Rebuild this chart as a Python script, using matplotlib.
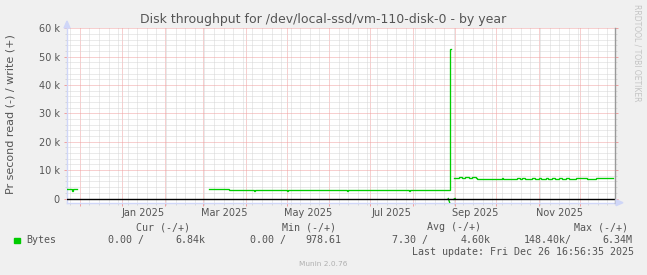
import numpy as np
import pandas as pd
import matplotlib
matplotlib.use("Agg")
import matplotlib.pyplot as plt
import matplotlib.dates as mdates
import matplotlib.transforms as mtransforms
from matplotlib.patches import Rectangle, Polygon
from matplotlib.ticker import FixedLocator, MultipleLocator

W, H = 647, 275
nan = np.nan

# ---------------- data ----------------
title = "Disk throughput for /dev/local-ssd/vm-110-disk-0 - by year"
ylabel = "Pr second read (-) / write (+)"
range_start = "2024-11-21 16:56:35"
range_end = "2025-12-26 16:56:35"

write_dates = ["2024-11-21", "2024-11-25", "2024-11-26", "2024-11-29",
               "2025-03-05", "2025-03-20", "2025-04-04", "2025-04-07", "2025-04-08",
               "2025-05-01", "2025-05-02", "2025-05-19", "2025-05-24", "2025-06-11",
               "2025-06-14", "2025-06-15", "2025-07-29", "2025-07-30", "2025-08-28",
               "2025-08-29",
               "2025-08-31", "2025-09-04", "2025-09-06", "2025-09-08", "2025-09-11",
               "2025-09-13", "2025-09-16", "2025-09-17", "2025-10-05", "2025-10-06",
               "2025-10-16", "2025-10-18", "2025-10-20", "2025-10-22", "2025-10-27",
               "2025-10-29", "2025-11-01", "2025-11-03", "2025-11-06", "2025-11-08",
               "2025-11-11", "2025-11-13", "2025-11-16", "2025-11-18", "2025-11-21",
               "2025-11-23", "2025-11-28", "2025-12-06", "2025-12-13", "2025-12-25"]
write_k = [3.2, 2.8, 3.2, nan,
           3.2, 2.85, 3.15, 2.6, 2.85,
           2.55, 2.85, 3.15, 2.85, 3.15,
           2.6, 2.85, 2.6, 2.85, 52.6,
           nan,
           7.2, 7.5, 7.2, 7.5, 7.2,
           7.5, 7.2, 6.85, 7.2, 6.85,
           7.2, 6.85, 7.2, 6.85, 7.2,
           6.85, 7.2, 6.85, 7.2, 6.85,
           7.2, 6.85, 7.2, 6.85, 7.2,
           6.85, 7.2, 6.85, 7.2, nan]

read_dates = ["2025-08-27", "2025-08-28", "2025-08-29", "2025-08-31", "2025-09-01"]
read_k = [0.0, -1.4, nan, -0.3, 0.0]

ytick_vals = [0, 10000, 20000, 30000, 40000, 50000, 60000]
ytick_labels = ["0", "10 k", "20 k", "30 k", "40 k", "50 k", "60 k"]
xlabel_months = ["2025-01-01", "2025-03-01", "2025-05-01", "2025-07-01", "2025-09-01", "2025-11-01"]
xlabel_texts = ["Jan 2025", "Mar 2025", "May 2025", "Jul 2025", "Sep 2025", "Nov 2025"]

legend_name = "Bytes"
legend_headers = ["Cur (-/+)", "Min (-/+)", "Avg (-/+)", "Max (-/+)"]
legend_values = ["0.00 /", "6.84k", "0.00 /", "978.61", "7.30 /", "4.60k", "148.40k/", "6.34M"]
last_update = "Last update: Fri Dec 26 16:56:35 2025"
munin_version = "Munin 2.0.76"
watermark = "RRDTOOL / TOBI OETIKER"

# ---------------- style ----------------
GREEN = "#00CC00"
BACK = "#F0F0F0"
FONT = "#555555"
AXIS = "#CFD6F8"
MINOR = "#D6D6D6"
MAJOR = "#F0A0A0"

def fx(x):
    return x / W

def fy(y):
    return 1 - y / H

fig = plt.figure(figsize=(W / 100, H / 100), dpi=100, facecolor=BACK)
plot_left, plot_right, plot_top, plot_bottom = 67, 615, 28.3, 202.7
ax = fig.add_axes([fx(plot_left), fy(plot_bottom), (plot_right - plot_left) / W,
                   (plot_bottom - plot_top) / H])
ax.set_facecolor("white")

t0 = pd.Timestamp(range_start)
t1 = pd.Timestamp(range_end)
ax.set_xlim(t0, t1)
ax.set_ylim(-1480, 60000)

wd = pd.to_datetime(write_dates)
wv = np.array(write_k) * 1000
rd = pd.to_datetime(read_dates)
rv = np.array(read_k) * 1000

ax.plot(wd, wv, drawstyle="steps-post", color=GREEN, lw=0.95, zorder=3,
        solid_joinstyle="miter")
ax.plot(rd, rv, color=GREEN, lw=0.95, zorder=3)
ax.axhline(0, color="black", lw=1.0, zorder=4)

# grid
ax.xaxis.set_major_locator(mdates.MonthLocator())
ax.xaxis.set_minor_locator(mdates.WeekdayLocator(byweekday=mdates.SU))
ax.yaxis.set_major_locator(FixedLocator(ytick_vals))
ax.yaxis.set_minor_locator(MultipleLocator(2000))
ax.grid(which="minor", color=MINOR, lw=0.72, ls=(0, (1, 1)))
ax.grid(which="major", color=MAJOR, lw=0.72, ls=(0, (1, 1)))
ax.set_axisbelow(True)

ax.tick_params(which="both", direction="out", top=False, right=True,
               labelbottom=False, labelleft=True)
ax.tick_params(which="major", length=2.3, width=0.72, color=MAJOR)
ax.tick_params(which="minor", length=1.6, width=0.72, color=MINOR)
ax.set_yticklabels(ytick_labels)
ax.tick_params(axis="y", which="major", pad=3.0, labelsize=7, labelcolor=FONT)

for s in ax.spines.values():
    s.set_visible(False)

# axes lines with arrows (rrdtool style)
ax.plot([0, 0], [0, 1.0], transform=ax.transAxes, color=AXIS, lw=1.0,
        clip_on=False, zorder=2)
ax.plot([0, 1.0], [0, 0], transform=ax.transAxes, color=AXIS, lw=1.0,
        clip_on=False, zorder=2)
fig.patches.append(Polygon([(fx(plot_left), fy(21)), (fx(plot_left - 3), fy(28)),
                            (fx(plot_left + 3), fy(28))], closed=True,
                           transform=fig.transFigure, color=AXIS, zorder=5))
fig.patches.append(Polygon([(fx(plot_right + 8), fy(plot_bottom)),
                            (fx(plot_right + 1), fy(plot_bottom - 3)),
                            (fx(plot_right + 1), fy(plot_bottom + 3))], closed=True,
                           transform=fig.transFigure, color=AXIS, zorder=5))
ax.plot([1, 1], [0, 1], transform=ax.transAxes, color="#9A9A9A", lw=1.0,
        clip_on=False, zorder=5)

# month labels centred in their month
trans_x = mtransforms.blended_transform_factory(ax.transData, fig.transFigure)
for m, lab in zip(xlabel_months, xlabel_texts):
    ms = pd.Timestamp(m)
    me = ms + pd.offsets.MonthBegin(1)
    mid = ms + (me - ms) / 2
    ax.text(mid, fy(212.5), lab, transform=trans_x, ha="center", va="center",
            fontsize=7, color=FONT, clip_on=False)

# texts
fig.text(0.5, fy(19.5), title, ha="center", va="center", fontsize=9, color=FONT)
fig.text(fx(10.5), fy(114), ylabel, rotation=90, ha="center", va="center",
         fontsize=8, color=FONT)
fig.text(fx(637), fy(4), watermark, rotation=270, ha="center", va="top",
         fontsize=5.5, color="#C4C4C4")

mono = dict(family="DejaVu Sans Mono", fontsize=7.2, color=FONT, va="center")
header_x = [136.2, 281.5, 427.1, 573.7]
for x, t in zip(header_x, legend_headers):
    fig.text(fx(x), fy(227.5), t, ha="left", **mono)
fig.patches.append(Rectangle((fx(14.4), fy(243)), 5.5 / W, 5.5 / H,
                             transform=fig.transFigure, color=GREEN))
fig.text(fx(26), fy(240), legend_name, ha="left", **mono)
value_x = [108.1, 175.4, 250.5, 305.8, 392.1, 460.2, 524.1, 602.6]
for x, t in zip(value_x, legend_values):
    fig.text(fx(x), fy(240), t, ha="left", **mono)
fig.text(fx(411.5), fy(252), last_update, ha="left", **mono)
fig.text(0.5, fy(263.5), munin_version, ha="center", va="center", fontsize=5.3,
         color="#B0B0B0")

fig.savefig("out.png", dpi=100, facecolor=BACK)
